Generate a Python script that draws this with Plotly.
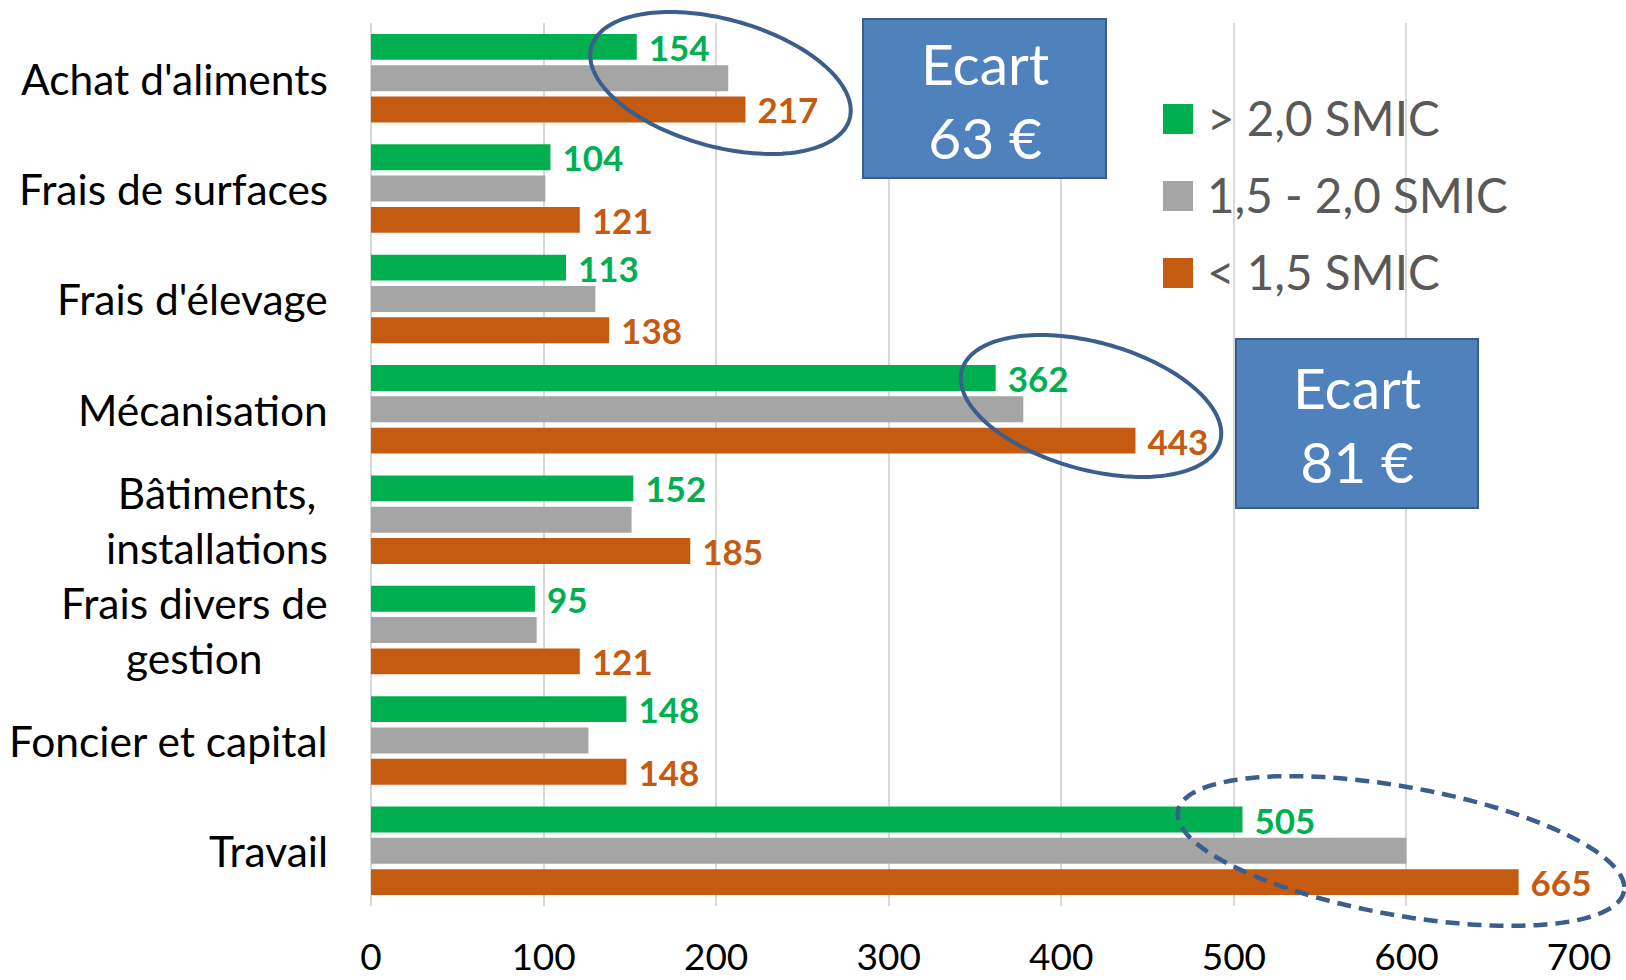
import numpy as np
import plotly.graph_objects as go

# ---------------- data ----------------
categories = ["Achat d'aliments", "Frais de surfaces", "Frais d'élevage", "Mécanisation",
              "Bâtiments, installations", "Frais divers de gestion", "Foncier et capital", "Travail"]
category_labels = ["Achat d'aliments", "Frais de surfaces", "Frais d'élevage", "Mécanisation",
                   "Bâtiments,<br>installations", "Frais divers de<br>gestion",
                   "Foncier et capital", "Travail"]
series_names = ["> 2,0 SMIC", "1,5 - 2,0 SMIC", "< 1,5 SMIC"]
high_income = [154, 104, 113, 362, 152, 95, 148, 505]
mid_income = [207, 101, 130, 378, 151, 96, 126, 600]
low_income = [217, 121, 138, 443, 185, 121, 148, 665]
show_labels = [True, False, True]
x_ticks = [0, 100, 200, 300, 400, 500, 600, 700]
ecart_texts = ["Ecart<br>63 €", "Ecart<br>81 €"]

colors = ["#00B050", "#A5A5A5", "#C55A11"]
FONT = "Lato"

# ---------------- layout geometry (pixels) ----------------
W, H = 1626, 980
PL, PR, PT, PB = 371, 1579, 23, 906


def px(xp):
    return (xp - PL) / (PR - PL)


def py(yp):
    return (PB - yp) / (PB - PT)


fig = go.Figure()
for name, vals, col, lab in zip(series_names, [high_income, mid_income, low_income], colors, show_labels):
    fig.add_trace(go.Bar(
        y=categories, x=vals, name=name, orientation="h",
        marker=dict(color=col, line=dict(width=0)),
        texttemplate="\u00a0<b>%{x}</b>" if lab else None,
        textposition="outside" if lab else "none",
        textfont=dict(family=FONT, size=35, color=col),
        constraintext="none", cliponaxis=False, showlegend=False,
    ))

shapes = []
annotations = []

# category labels (centered multi-line, right aligned block)
for cat, lab in zip(categories, category_labels):
    annotations.append(dict(x=px(330), xref="paper", y=cat, yref="y", text=lab,
                            xanchor="right", yanchor="middle", align="center", showarrow=False,
                            font=dict(family=FONT, size=42.5, color="#000000")))

# legend drawn manually (large squares)
leg_rows = [119, 196, 273]
for name, col, yc in zip(series_names, colors, leg_rows):
    shapes.append(dict(type="rect", xref="paper", yref="paper",
                       x0=px(1163), x1=px(1193), y0=py(yc + 15), y1=py(yc - 15),
                       fillcolor=col, line=dict(width=0), layer="above"))
    annotations.append(dict(x=px(1205), xref="paper", y=py(yc - 2), yref="paper", text=name,
                            xanchor="left", yanchor="middle", showarrow=False,
                            font=dict(family=FONT, size=47.5, color="#595959")))

# Ecart boxes
boxes = [(863, 19, 1106, 178), (1236, 339, 1478, 508)]
for (x0, y0, x1, y1), txt in zip(boxes, ecart_texts):
    shapes.append(dict(type="rect", xref="paper", yref="paper",
                       x0=px(x0), x1=px(x1), y0=py(y1), y1=py(y0),
                       fillcolor="#4F81BD", line=dict(color="#385D8A", width=2), layer="above"))
    annotations.append(dict(x=px((x0 + x1) / 2), xref="paper", y=py((y0 + y1) / 2 + 1), yref="paper",
                            text=txt, xanchor="center", yanchor="middle", align="center",
                            showarrow=False, font=dict(family=FONT, size=57, color="#FFFFFF")))


def ellipse_path(cx, cy, a, b, deg, n=160):
    t = np.linspace(0, 2 * np.pi, n)
    th = np.deg2rad(deg)
    X = cx + a * np.cos(t) * np.cos(th) - b * np.sin(t) * np.sin(th)
    Y = cy + a * np.cos(t) * np.sin(th) + b * np.sin(t) * np.cos(th)
    pts = [f"{px(x):.5f},{py(y):.5f}" for x, y in zip(X, Y)]
    return "M" + " L".join(pts) + " Z"


ellipses = [((720.5, 83), 134, 63.6, 15.5, "solid", 4),
            ((1091, 406), 134, 63.6, 15.5, "solid", 4),
            ((1401, 851), 226.6, 64.2, 10.2, "14px,8px", 4.5)]
for (cx, cy), a, b, deg, dash, lw in ellipses:
    shapes.append(dict(type="path", xref="paper", yref="paper", path=ellipse_path(cx, cy, a, b, deg),
                       line=dict(color="#3B5E8C", width=lw, dash=dash), fillcolor="rgba(0,0,0,0)",
                       layer="above"))

fig.update_layout(
    width=W, height=H,
    margin=dict(l=PL, r=W - PR, t=PT, b=H - PB, autoexpand=False),
    paper_bgcolor="white", plot_bgcolor="white",
    barmode="group", bargap=0.149, bargroupgap=0.17,
    font=dict(family=FONT, color="#000000"),
    xaxis=dict(range=[0, 700], tickvals=x_ticks, showgrid=True, gridcolor="#D9D9D9", gridwidth=2,
               zeroline=True, zerolinecolor="#D9D9D9", zerolinewidth=2, showline=False,
               ticks="", ticklabelstandoff=26,
               tickfont=dict(family=FONT, size=37, color="#000000"), automargin=False),
    yaxis=dict(categoryorder="array", categoryarray=categories, autorange="reversed",
               showticklabels=False, showgrid=False, zeroline=False, automargin=False),
    shapes=shapes, annotations=annotations,
)

fig.write_html("out.html", config={"displayModeBar": False},
               post_script="document.body.style.margin='0px';document.body.style.overflow='hidden';")
